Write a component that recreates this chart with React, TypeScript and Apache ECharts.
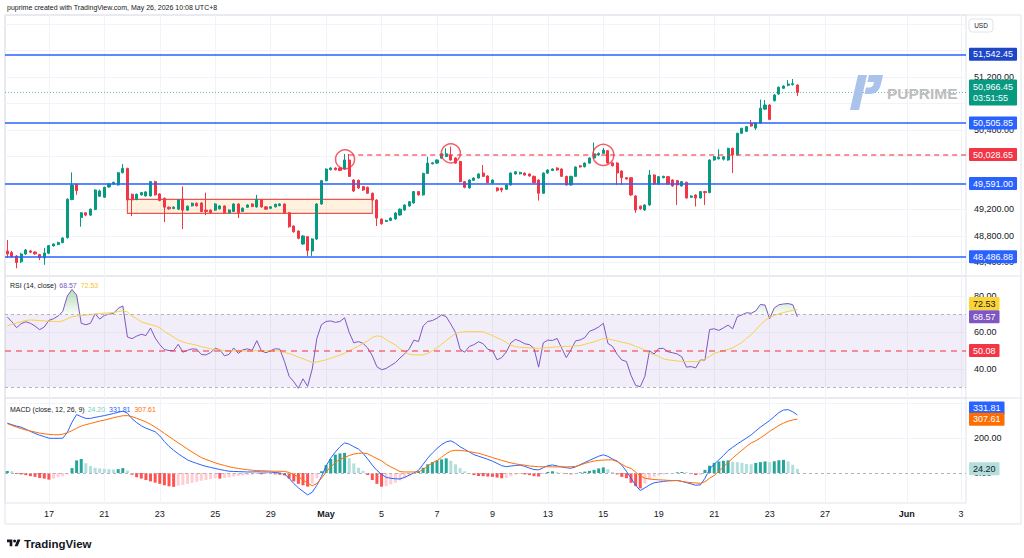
import React, { useEffect, useRef } from 'react';
import * as echarts from 'echarts';

const FONT = "'Liberation Sans', Arial, sans-serif";

// 4-hour bars: [open, close, low, high]
const ohlc: number[][] = [
  [48574, 48528, 48468, 48740], [48550, 48490, 48470, 48575], [48498, 48400, 48313, 48510], [48410, 48528, 48390, 48545],
  [48528, 48589, 48515, 48605], [48574, 48555, 48540, 48590], [48558, 48530, 48515, 48570], [48520, 48470, 48435, 48530],
  [48470, 48543, 48365, 48620], [48540, 48655, 48525, 48665], [48650, 48679, 48640, 48690], [48670, 48700, 48660, 48715],
  [48700, 48770, 48690, 48780], [48775, 49355, 48760, 49370], [49350, 49570, 49340, 49760], [49580, 49485, 49420, 49590],
  [49080, 49150, 48940, 49160], [49150, 49115, 49100, 49160], [49115, 49205, 49100, 49215], [49200, 49494, 49190, 49505],
  [49400, 49480, 49390, 49500], [49385, 49535, 49375, 49545], [49540, 49585, 49530, 49595], [49585, 49610, 49575, 49620],
  [49570, 49755, 49560, 49765], [49755, 49820, 49745, 49887], [49820, 49345, 49335, 49830], [49430, 49345, 49100, 49440],
  [49350, 49430, 49340, 49440], [49420, 49455, 49410, 49465], [49405, 49465, 49395, 49475], [49405, 49620, 49395, 49630],
  [49620, 49420, 49410, 49635], [49435, 49335, 49325, 49445], [49370, 49235, 49010, 49380], [49235, 49210, 49195, 49245],
  [49215, 49235, 49205, 49250], [49205, 49345, 49190, 49355], [49355, 49190, 48905, 49550], [49190, 49250, 49180, 49260],
  [49255, 49295, 49245, 49305], [49295, 49255, 49245, 49305], [49298, 49170, 49160, 49310], [49190, 49170, 49115, 49455],
  [49190, 49155, 49140, 49200], [49190, 49283, 49180, 49295], [49210, 49253, 49200, 49265], [49253, 49150, 49140, 49262],
  [49150, 49192, 49140, 49200], [49170, 49283, 49160, 49295], [49283, 49150, 49070, 49292], [49170, 49220, 49160, 49230],
  [49233, 49268, 49225, 49278], [49283, 49245, 49235, 49292], [49238, 49355, 49228, 49420], [49343, 49238, 49228, 49355],
  [49240, 49205, 49195, 49250], [49218, 49240, 49205, 49250], [49240, 49278, 49230, 49288], [49258, 49283, 49250, 49295],
  [49283, 49150, 49140, 49290], [49150, 48940, 48925, 49160], [48950, 48865, 48850, 48960], [48875, 48765, 48750, 48885],
  [48679, 48800, 48665, 48815], [48790, 48580, 48498, 48800], [48574, 48755, 48500, 48765], [48755, 49283, 48740, 49295],
  [49283, 49635, 49270, 49645], [49635, 49810, 49625, 49820], [49800, 49826, 49790, 49836], [49826, 49800, 49790, 49836],
  [49826, 49790, 49780, 49836], [49810, 49947, 49800, 50038], [49947, 49700, 49690, 50038], [49645, 49479, 49465, 49660],
  [49640, 49525, 49510, 49650], [49545, 49494, 49480, 49555], [49535, 49445, 49435, 49545], [49445, 49343, 49330, 49455],
  [49343, 49070, 48950, 49355], [49055, 48985, 48970, 49065], [49020, 49035, 49010, 49045], [49035, 49070, 49025, 49080],
  [49057, 49147, 49045, 49160], [49117, 49205, 49105, 49215], [49192, 49268, 49180, 49278], [49253, 49318, 49243, 49328],
  [49298, 49470, 49288, 49480], [49470, 49420, 49410, 49480], [49420, 49745, 49410, 49755], [49745, 49900, 49735, 49995],
  [49890, 49905, 49880, 49915], [49900, 49947, 49890, 49957], [49975, 50040, 49965, 50050], [50000, 50040, 49990, 50125],
  [50023, 49947, 49937, 50150], [49977, 49900, 49890, 49987], [49925, 49620, 49610, 49935], [49620, 49535, 49520, 49630],
  [49525, 49645, 49515, 49655], [49640, 49675, 49630, 49685], [49675, 49736, 49665, 49746], [49750, 49700, 49690, 49872],
  [49706, 49605, 49595, 49716], [49600, 49645, 49590, 49655], [49525, 49485, 49470, 49535], [49520, 49494, 49460, 49530],
  [49505, 49570, 49495, 49580], [49570, 49750, 49560, 49760], [49736, 49770, 49726, 49780], [49738, 49760, 49728, 49770],
  [49750, 49720, 49710, 49760], [49736, 49706, 49696, 49746], [49700, 49605, 49595, 49712], [49645, 49445, 49335, 49655],
  [49445, 49750, 49435, 49760], [49750, 49796, 49740, 49806], [49790, 49811, 49780, 49821], [49826, 49796, 49786, 49836],
  [49811, 49700, 49690, 49821], [49700, 49570, 49560, 49710], [49570, 49700, 49560, 49710], [49700, 49842, 49690, 49852],
  [49860, 49842, 49832, 49870], [49845, 49900, 49835, 49910], [49900, 49977, 49890, 49987], [49977, 50040, 49967, 50210],
  [50023, 50048, 50010, 50060], [50048, 50098, 50038, 50130], [50088, 49902, 49892, 50098], [49902, 49860, 49850, 49912],
  [49902, 49751, 49570, 49912], [49781, 49680, 49570, 49790], [49680, 49660, 49650, 49690], [49680, 49419, 49405, 49690],
  [49404, 49192, 49150, 49415], [49250, 49210, 49195, 49260], [49192, 49268, 49180, 49278], [49268, 49721, 49258, 49796],
  [49721, 49585, 49575, 49731], [49585, 49696, 49575, 49706], [49680, 49700, 49670, 49710], [49696, 49585, 49575, 49706],
  [49645, 49555, 49545, 49655], [49635, 49570, 49268, 49645], [49555, 49620, 49545, 49630], [49610, 49374, 49364, 49620],
  [49385, 49404, 49375, 49414], [49419, 49374, 49245, 49430], [49374, 49470, 49364, 49480], [49470, 49455, 49268, 49480],
  [49455, 49947, 49445, 49957], [49947, 49997, 49937, 50007], [49965, 49990, 49955, 50110], [49960, 49995, 49940, 50005],
  [49947, 50123, 49937, 50133], [50123, 50023, 49751, 50133], [50023, 50350, 50013, 50360], [50350, 50425, 50340, 50435],
  [50380, 50450, 50370, 50460], [50500, 50460, 50450, 50550], [50430, 50506, 50400, 50516], [50506, 50730, 50496, 50860],
  [50715, 50777, 50705, 50853], [50777, 50560, 50550, 50790], [50842, 50928, 50832, 50943], [50943, 51045, 50933, 51055],
  [51030, 51064, 51020, 51074], [51075, 51094, 51060, 51155], [51085, 51100, 51070, 51170], [51079, 50966.45, 50913, 51090],
];

// RSI (14, close) and its moving average
const rsi = [
  68.5, 65.8, 62.6, 64.8, 65.8, 65.0, 63.5, 61.5, 63.0, 66.6,
  67.5, 69.0, 71.5, 80.0, 83.5, 80.5, 65.0, 64.2, 65.0, 70.2,
  67.3, 69.3, 70.0, 70.4, 73.2, 74.5, 57.5, 56.6, 58.0, 59.0,
  58.3, 62.4, 57.0, 53.3, 50.6, 50.1, 50.0, 53.5, 49.2, 50.2,
  51.0, 50.8, 47.9, 47.7, 49.0, 51.3, 50.5, 47.2, 48.0, 51.5,
  48.5, 50.5, 51.0, 50.2, 55.5, 49.9, 48.9, 50.0, 51.1, 50.8,
  44.0, 36.0, 33.0, 29.4, 34.6, 30.5, 40.0, 56.8, 64.3, 66.0,
  66.3, 65.5, 66.0, 68.0, 60.0, 54.3, 55.0, 54.0, 51.5, 47.2,
  41.2, 39.6, 40.3, 41.9, 43.5, 46.0, 48.3, 51.0, 55.8, 55.0,
  63.5, 66.0, 66.5, 67.8, 69.6, 68.6, 64.5, 60.0, 50.8, 49.2,
  52.3, 53.3, 54.9, 53.8, 50.8, 50.0, 45.0, 46.2, 49.3, 54.3,
  56.2, 55.2, 53.8, 53.3, 51.3, 41.0, 54.3, 55.8, 55.6, 56.7,
  51.3, 46.2, 50.5, 55.4, 55.9, 57.2, 60.6, 61.6, 63.0, 65.0,
  54.0, 52.3, 48.0, 44.9, 44.1, 36.5, 31.0, 30.3, 36.0, 50.0,
  48.2, 51.2, 51.3, 49.4, 48.9, 48.2, 46.6, 41.0, 41.3, 40.6,
  44.9, 44.9, 61.6, 62.0, 61.1, 62.5, 64.0, 62.0, 68.6, 69.6,
  70.8, 70.5, 71.8, 75.3, 75.0, 67.5, 73.4, 75.1, 75.6, 75.8,
  75.2, 68.57,
];
const rsiMa = [
  63.5, 64.5, 65.3, 65.8, 66.6, 66.8, 66.7, 66.5, 66.3, 66.1,
  66.0, 65.9, 66.3, 67.5, 68.6, 69.0, 69.2, 69.5, 69.8, 70.1,
  70.4, 70.6, 70.7, 70.9, 71.4, 71.9, 71.2, 69.0, 67.5, 65.8,
  65.0, 64.3, 63.7, 62.5, 60.5, 59.0, 57.5, 55.8, 54.8, 54.0,
  53.6, 53.0, 52.2, 51.7, 51.0, 50.6, 50.4, 50.2, 50.0, 49.9,
  49.9, 49.9, 49.9, 49.9, 50.0, 50.0, 50.0, 50.0, 50.0, 49.8,
  49.0, 48.4, 47.5, 46.5, 45.6, 44.6, 43.6, 43.8, 44.4, 45.0,
  45.8, 46.8, 47.6, 48.6, 50.0, 51.3, 52.5, 54.0, 55.3, 57.3,
  58.1, 57.8, 56.0, 54.5, 53.2, 51.0, 49.5, 48.0, 47.7, 47.7,
  47.7, 48.5, 50.0, 51.6, 53.5, 55.5, 57.5, 59.5, 60.0, 60.4,
  60.4, 60.4, 60.4, 60.4, 59.3, 58.3, 57.0, 56.0, 54.5, 53.0,
  52.2, 51.9, 51.7, 51.6, 51.4, 51.3, 51.5, 51.7, 51.9, 52.1,
  52.3, 52.4, 52.5, 52.6, 52.8, 53.5, 54.2, 54.8, 55.7, 56.7,
  56.5, 55.9, 55.3, 54.7, 54.1, 53.5, 52.3, 51.5, 50.2, 48.6,
  47.7, 46.9, 45.5, 45.0, 44.7, 44.4, 44.1, 44.0, 44.0, 44.0,
  44.3, 45.5, 46.8, 48.5, 49.3, 50.0, 50.7, 51.6, 53.0, 54.5,
  56.8, 58.8, 61.3, 64.2, 66.5, 68.3, 69.3, 70.2, 70.9, 71.5,
  72.1, 72.53,
];

// MACD (close, 12, 26, 9)
const macdLine = [
  285, 276, 268, 262, 250, 238, 226, 216, 208, 199,
  198, 198, 199, 232, 290, 334, 322, 312, 312, 318,
  323, 328, 334, 340, 347, 353, 342, 310, 288, 270,
  256, 246, 236, 212, 180, 152, 130, 110, 92, 75,
  64, 55, 46, 38, 32, 26, 20, 15, 10, 9,
  8, 7, 6, 6, 7, 6, 6, 5, 3, 0,
  -6, -30, -60, -85, -105, -125, -110, -70, -20, 40,
  85, 120, 150, 172, 165, 150, 137, 112, 80, 45,
  15, -8, -25, -30, -33, -34, -25, -12, 0, 15,
  50, 85, 114, 140, 162, 178, 184, 170, 150, 135,
  120, 105, 96, 87, 78, 68, 55, 42, 36, 40,
  43, 45, 38, 28, 20, 18, 30, 42, 46, 40,
  35, 30, 27, 35, 48, 60, 72, 84, 96, 104,
  95, 80, 68, 45, 10, -30, -70, -100, -85, -68,
  -56, -52, -48, -45, -44, -43, -48, -55, -62, -70,
  -68, -30, 22, 50, 75, 100, 128, 147, 166, 183,
  200, 218, 240, 262, 281, 300, 322, 345, 360, 362,
  350, 331.81,
];
const signalLine = [
  282, 272, 262, 254, 246, 240, 234, 228, 224, 221,
  219, 218, 222, 230, 242, 256, 268, 276, 283, 290,
  297, 302, 309, 316, 322, 327, 328, 322, 312, 303,
  292, 278, 262, 245, 226, 208, 190, 172, 155, 137,
  120, 104, 88, 77, 68, 58, 50, 43, 36, 30,
  26, 22, 19, 16, 14, 13, 12, 11, 10, 10,
  9, 3, -10, -22, -40, -58, -73, -60, -30, 5,
  35, 60, 78, 88, 100, 108, 112, 114, 110, 96,
  82, 70, 50, 35, 22, 8, 6, 6, 6, 6,
  20, 40, 58, 70, 90, 110, 125, 130, 129, 126,
  122, 117, 113, 105, 97, 88, 80, 72, 65, 58,
  52, 48, 45, 40, 38, 36, 36, 36, 35, 35,
  35, 35, 36, 38, 45, 55, 62, 68, 72, 74,
  75, 75, 65, 50, 35, 26, 5, -15, -30, -34,
  -37, -39, -40, -42, -43, -43, -48, -52, -55, -57,
  -59, -50, -30, -14, 10, 35, 60, 85, 108, 130,
  152, 172, 184, 200, 218, 238, 255, 272, 285, 296,
  303, 307.61,
];
const macdHist = [
  12, 10, -5, -8, -12, -18, -22, -28, -32, -38,
  -32, -24, -18, -8, 28, 72, 80, 56, 40, 30,
  26, 24, 22, 20, 22, 28, 14, -10, -24, -32,
  -40, -48, -55, -62, -70, -76, -79, -72, -68, -62,
  -56, -50, -44, -40, -34, -30, -32, -28, -24, -20,
  -16, -14, -12, -10, -6, -7, -6, -6, -8, -10,
  -14, -32, -48, -62, -70, -78, -60, -30, 10, 45,
  80, 105, 112, 115, 85, 55, 30, 12, -12, -40,
  -62, -78, -75, -65, -55, -42, -30, -18, -6, 10,
  30, 50, 62, 72, 78, 84, 70, 50, 28, 10,
  -2, -12, -17, -18, -20, -22, -26, -30, -28, -18,
  -10, -6, -8, -12, -18, -20, -6, 6, 10, 5,
  2, -4, -8, -4, 4, 8, 12, 18, 26, 32,
  22, 6, -8, -22, -30, -56, -75, -88, -60, -38,
  -22, -14, -8, -4, -2, 4, 6, 4, -6, -12,
  -10, 18, 42, 58, 66, 70, 72, 64, 62, 58,
  52, 50, 58, 62, 66, 62, 67, 73, 75, 66,
  47, 24.2,
];

// Time scale: bar slots (including empty future space) and date labels
const SLOTS = 208;
const dateTicks = [9, 21, 33, 45, 57, 69, 81, 93, 105, 117, 129, 141, 153, 165, 177, 194.7, 206.4];
const dateLabels = ['17', '21', '23', '25', '29', 'May', '5', '7', '9', '13', '15', '19', '21', '23', '27', 'Jun', '3'];
const monthLabels = ['May', 'Jun'];

// Value scales (grid lines, and the labels left visible beside the price tags)
const priceGridTicks = [48400, 48800, 49200, 49600, 50000, 50400, 50800, 51200, 51600, 52000];
const priceLabelTicks = [48400, 48800, 49200, 50400, 51200, 51600];
const rsiTicks = [40, 60, 80];
const macdLabelTicks = [0, 200];
const macdGridTicks = [200, 400];

// Drawn levels and annotations
const levels = [51542.45, 50505.85, 49591.0, 48486.88];
const neckline = 50028.65;
const necklineStart = 74;
const countdown = '03:51:55';
const rangeBox = { from: 26, to: 79, top: 49353, bottom: 49142 };
const tops = [[73.1, 49958], [96, 50048], [129, 50023]];
const topSizes = [19, 19, 21];
const rsiMid = 50.08;
const overbought = 70;
const oversold = 30;

const fmt2 = (v: number) =>
  v.toLocaleString('en-US', { minimumFractionDigits: 2, maximumFractionDigits: 2 });

echarts.graphic.registerShape(
  'tvLogo',
  echarts.graphic.extendPath('M14 22H7V11H0V4h14v18zM28 22h-8l7.5-18h8L28 22zM24 8a4 4 0 1 0-8 0a4 4 0 1 0 8 0z', {})
);
echarts.graphic.registerShape(
  'puLogo',
  echarts.graphic.extendPath(
    'M8 0L17 0L9 35L0 35Z M19 0L33 0L31 9C29.5 15.5 26 19 20 19L14.5 19L16 12.5L19.5 12.5C21.5 12.5 23 11 23.5 9L24 7L17.4 7Z',
    {}
  )
);

function tag(bg: string, color = '#ffffff') {
  return {
    show: true,
    position: 'end',
    distance: 3,
    backgroundColor: bg,
    color,
    fontSize: 9,
    fontFamily: FONT,
    padding: [2, 4, 2, 4],
    borderRadius: 1,
    opacity: 1,
  };
}

function buildOption() {
  const last = ohlc.length - 1;
  const lastClose = ohlc[last][1];
  const rsiLast = rsi[rsi.length - 1];
  const maLast = rsiMa[rsiMa.length - 1];
  const macdLast = macdLine[macdLine.length - 1];
  const sigLast = signalLine[signalLine.length - 1];
  const histLast = macdHist[macdHist.length - 1];

  const grids = [
    { top: 15, height: 261 },
    { top: 276, height: 122 },
    { top: 398, height: 105 },
  ].map((g) => ({
    left: 5,
    right: 58,
    top: g.top,
    height: g.height,
    show: true,
    borderColor: '#e0e3eb',
    borderWidth: 1,
    backgroundColor: 'rgba(0,0,0,0)',
    outerBoundsMode: 'none',
  }));

  const xAxis = [0, 1, 2].map((gi) => ({
    type: 'value',
    gridIndex: gi,
    min: -0.5,
    max: SLOTS - 0.5,
    axisLine: { show: false },
    axisTick: { show: false, customValues: dateTicks },
    splitLine: { show: true, lineStyle: { color: '#f0f3fa', width: 1 } },
    axisLabel:
      gi === 2
        ? {
            show: true,
            customValues: dateTicks,
            margin: 6,
            fontSize: 9,
            color: '#131722',
            fontFamily: FONT,
            formatter: (v: number) => {
              const k = dateTicks.findIndex((t) => Math.abs(t - v) < 0.01);
              const s = k >= 0 ? dateLabels[k] : '';
              return monthLabels.includes(s) ? `{m|${s}}` : s;
            },
            rich: { m: { fontWeight: 'bold', fontSize: 9, color: '#131722', fontFamily: FONT } },
          }
        : { show: false },
  }));

  const yAxisBase = (gi: number, min: number, max: number, labelTicks: number[], gridTicks: number[]) => ({
    type: 'value',
    gridIndex: gi,
    position: 'right',
    min,
    max,
    axisLine: { show: false },
    axisTick: { show: false, customValues: gridTicks },
    splitLine: { show: true, lineStyle: { color: '#f0f3fa', width: 1 } },
    axisLabel: {
      customValues: labelTicks,
      formatter: (v: number) => fmt2(v),
      margin: 8,
      fontSize: 9,
      color: '#131722',
      fontFamily: FONT,
    },
  });

  const yAxis = [
    yAxisBase(0, 48196, 52136, priceLabelTicks, priceGridTicks),
    yAxisBase(1, 24.1, 90.9, rsiTicks, rsiTicks),
    yAxisBase(2, -171.4, 428.6, macdLabelTicks, macdGridTicks),
  ];

  const histColors = macdHist.map((v, i) => {
    const prev = i > 0 ? macdHist[i - 1] : v;
    if (v >= 0) return v >= prev ? '#26a69a' : '#b2dfdb';
    return v <= prev ? '#ff5252' : '#ffcdd2';
  });

  const hidden = { color: 'rgba(0,0,0,0)', width: 0 };

  const series: any[] = [
    {
      type: 'candlestick',
      xAxisIndex: 0,
      yAxisIndex: 0,
      barWidth: 2.6,
      data: ohlc.map((d, i) => [i, d[0], d[1], d[2], d[3]]),
      itemStyle: {
        color: '#089981',
        color0: '#f23645',
        borderColor: '#089981',
        borderColor0: '#f23645',
        borderWidth: 1,
      },
      markArea: {
        silent: true,
        label: { show: false },
        itemStyle: { color: 'rgba(255,152,0,0.13)', borderColor: '#ef5350', borderWidth: 1.2 },
        data: [[{ coord: [rangeBox.from, rangeBox.top] }, { coord: [rangeBox.to, rangeBox.bottom] }]],
      },
      markLine: {
        silent: true,
        symbol: ['none', 'none'],
        data: [
          ...levels.map((v, k) => ({
            yAxis: v,
            lineStyle: { color: '#2962ff', width: 1.5, type: 'solid' },
            label: { ...tag(k === 0 ? '#1e47c8' : '#2962ff'), formatter: fmt2(v) },
          })),
          [
            {
              coord: [necklineStart, neckline],
              lineStyle: { color: 'rgba(242,54,69,0.75)', width: 1.5, type: [5, 4] },
              label: { ...tag('#f23645'), formatter: fmt2(neckline) },
            },
            { coord: [SLOTS - 0.5, neckline] },
          ],
          {
            yAxis: lastClose,
            lineStyle: { color: 'rgba(8,153,129,0.6)', width: 1, type: [1, 2] },
            label: { ...tag('#089981'), lineHeight: 11, formatter: `${fmt2(lastClose)}\n${countdown}` },
          },
        ],
      },
    },
    {
      type: 'scatter',
      xAxisIndex: 0,
      yAxisIndex: 0,
      silent: true,
      z: 4,
      symbol: 'circle',
      symbolSize: (_v: any, p: any) => topSizes[p.dataIndex],
      itemStyle: { color: 'rgba(0,0,0,0)', borderColor: '#f23645', borderWidth: 1.5 },
      data: tops,
    },
    // overbought fill: the 70 base, with the excess above it stacked on top
    {
      type: 'line',
      xAxisIndex: 1,
      yAxisIndex: 1,
      stack: 'ob',
      silent: true,
      showSymbol: false,
      lineStyle: hidden,
      encode: { x: 1, y: 0 },
      data: rsi.map((_v, i) => [overbought, i]),
    },
    {
      type: 'line',
      xAxisIndex: 1,
      yAxisIndex: 1,
      stack: 'ob',
      silent: true,
      showSymbol: false,
      lineStyle: hidden,
      encode: { x: 1, y: 0 },
      areaStyle: {
        color: new echarts.graphic.LinearGradient(0, 0, 0, 1, [
          { offset: 0, color: 'rgba(76,175,80,0.6)' },
          { offset: 1, color: 'rgba(76,175,80,0.05)' },
        ]),
      },
      data: rsi.map((v, i) => [Math.max(v - overbought, 0), i]),
    },
    {
      type: 'line',
      name: 'RSI',
      xAxisIndex: 1,
      yAxisIndex: 1,
      z: 3,
      showSymbol: false,
      lineStyle: { color: '#7e57c2', width: 1 },
      data: rsi.map((v, i) => [i, v]),
      markArea: {
        silent: true,
        itemStyle: { color: 'rgba(126,87,194,0.1)' },
        data: [[{ yAxis: oversold }, { yAxis: overbought }]],
      },
      markLine: {
        silent: true,
        symbol: ['none', 'none'],
        data: [
          { yAxis: overbought, lineStyle: { color: '#b2b5be', width: 1, type: [3, 3] }, label: { show: false } },
          { yAxis: oversold, lineStyle: { color: '#b2b5be', width: 1, type: [3, 3] }, label: { show: false } },
          {
            yAxis: rsiMid,
            lineStyle: { color: 'rgba(242,54,69,0.7)', width: 1.5, type: [6, 5] },
            label: { ...tag('#f23645'), formatter: fmt2(rsiMid) },
          },
          { yAxis: rsiLast, lineStyle: hidden, label: { ...tag('#7e57c2'), formatter: fmt2(rsiLast) } },
        ],
      },
    },
    {
      type: 'line',
      name: 'RSI MA',
      xAxisIndex: 1,
      yAxisIndex: 1,
      z: 3,
      showSymbol: false,
      lineStyle: { color: '#f7cf4a', width: 1 },
      data: rsiMa.map((v, i) => [i, v]),
      markLine: {
        silent: true,
        symbol: ['none', 'none'],
        data: [
          {
            yAxis: maLast,
            lineStyle: hidden,
            label: { ...tag('#fcd535', '#131722'), formatter: fmt2(maLast), offset: [0, -6] },
          },
        ],
      },
    },
    {
      type: 'bar',
      name: 'Histogram',
      xAxisIndex: 2,
      yAxisIndex: 2,
      barWidth: 3,
      data: macdHist.map((v, i) => ({ value: [i, v], itemStyle: { color: histColors[i] } })),
      markLine: {
        silent: true,
        symbol: ['none', 'none'],
        data: [
          { yAxis: 0, lineStyle: { color: '#b2b5be', width: 1, type: [3, 3] }, label: { show: false } },
          {
            yAxis: histLast,
            lineStyle: hidden,
            label: { ...tag('#b2dfdb', '#131722'), formatter: fmt2(histLast) },
          },
        ],
      },
    },
    {
      type: 'line',
      name: 'MACD',
      xAxisIndex: 2,
      yAxisIndex: 2,
      showSymbol: false,
      z: 3,
      lineStyle: { color: '#2962ff', width: 1 },
      data: macdLine.map((v, i) => [i, v]),
      markLine: {
        silent: true,
        symbol: ['none', 'none'],
        data: [
          { yAxis: macdLast, lineStyle: hidden, label: { ...tag('#2962ff'), formatter: fmt2(macdLast), offset: [0, -7] } },
        ],
      },
    },
    {
      type: 'line',
      name: 'Signal',
      xAxisIndex: 2,
      yAxisIndex: 2,
      showSymbol: false,
      z: 3,
      lineStyle: { color: '#ff6d00', width: 1 },
      data: signalLine.map((v, i) => [i, v]),
      markLine: {
        silent: true,
        symbol: ['none', 'none'],
        data: [{ yAxis: sigLast, lineStyle: hidden, label: { ...tag('#ff6d00'), formatter: fmt2(sigLast) } }],
      },
    },
  ];

  const txt = (x: number, y: number, text: string, fill: string, fontSize = 7, extra: any = {}) => ({
    type: 'text',
    x,
    y,
    silent: true,
    z: 10,
    style: { text, fill, fontSize, fontFamily: FONT, verticalAlign: 'middle', ...extra },
  });

  const legend = (x: number, y: number, parts: [string, string][]) => ({
    type: 'text',
    x,
    y,
    silent: true,
    z: 10,
    style: {
      text: parts.map((p, k) => `{p${k}|${p[0]}}`).join(' '),
      fontSize: 7,
      fontFamily: FONT,
      verticalAlign: 'middle',
      rich: Object.fromEntries(
        parts.map((p, k) => [`p${k}`, { fill: p[1], fontSize: 7, fontFamily: FONT, padding: [0, k === 0 ? 1 : 2, 0, 0] }])
      ),
    },
  });

  const graphic: any[] = [
    { type: 'rect', silent: true, z: -10, shape: { x: 5, y: 15, width: 1016, height: 509 }, style: { fill: 'none', stroke: '#e0e3eb', lineWidth: 1 } },
    { type: 'line', silent: true, shape: { x1: 966, y1: 276, x2: 1021, y2: 276 }, style: { stroke: '#e0e3eb', lineWidth: 1 } },
    { type: 'line', silent: true, shape: { x1: 966, y1: 398, x2: 1021, y2: 398 }, style: { stroke: '#e0e3eb', lineWidth: 1 } },
    { type: 'rect', silent: true, z: 10, shape: { x: 969, y: 19, width: 24, height: 13, r: 3 }, style: { fill: '#ffffff', stroke: '#e0e3eb', lineWidth: 1 } },
    txt(981, 25.5, 'USD', '#131722', 6.5, { align: 'center' }),
    txt(7, 7.5, 'puprime created with TradingView.com, May 26, 2026 10:08 UTC+8', '#131722', 7),
    legend(10, 285, [
      ['RSI (14, close)', '#131722'],
      [fmt2(rsiLast), '#7e57c2'],
      [fmt2(maLast), '#f7c325'],
    ]),
    legend(10, 409, [
      ['MACD (close, 12, 26, 9)', '#131722'],
      [fmt2(histLast), '#80cbc4'],
      [fmt2(macdLast), '#2962ff'],
      [fmt2(sigLast), '#ff6d00'],
    ]),
    { type: 'puLogo', x: 850, y: 75, silent: true, z: 9, style: { fill: '#a9c3ea' } },
    txt(887, 93, 'PUPRIME', '#bdbdbd', 15.5, { fontWeight: 'bold' }),
    { type: 'tvLogo', x: 7, y: 538, scaleX: 0.38, scaleY: 0.38, silent: true, style: { fill: '#131722' } },
    txt(24, 543.5, 'TradingView', '#131722', 11.5, { fontWeight: 'bold' }),
  ];

  return {
    animation: false,
    backgroundColor: '#ffffff',
    grid: grids,
    xAxis,
    yAxis,
    series,
    graphic,
  };
}

export default function App() {
  const ref = useRef<HTMLDivElement>(null);
  useEffect(() => {
    if (!ref.current) return;
    const chart = echarts.init(ref.current, null, { renderer: 'svg' });
    chart.setOption(buildOption() as any);
    return () => chart.dispose();
  }, []);
  return (
    <div
      ref={ref}
      style={{ position: 'fixed', left: 0, top: 0, width: 1024, height: 558, background: '#ffffff' }}
    />
  );
}
